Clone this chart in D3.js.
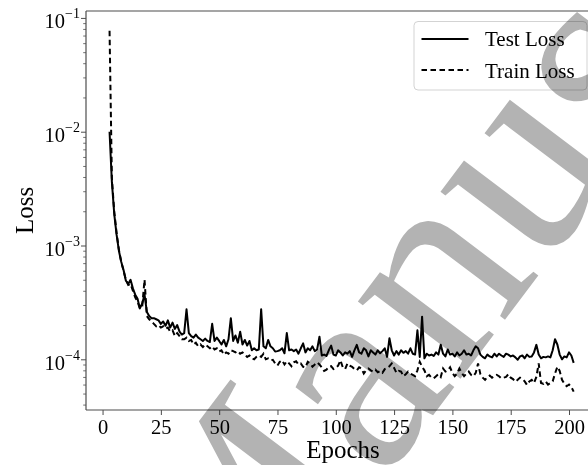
<!DOCTYPE html>
<html>
<head>
<meta charset="utf-8">
<script src="https://cdn.jsdelivr.net/npm/d3@7"></script>
<style>
  html, body { margin: 0; padding: 0; background: #fff; }
  svg { display: block; }
  text { font-family: "Liberation Serif", "DejaVu Serif", serif; }
</style>
</head>
<body>
<svg id="chart" width="588" height="465"></svg>
<script>
// ---------------- data ----------------
const firstEpoch = 3;
const testLoss = [
  1.0e-2, 3.6e-3, 1.9e-3, 1.25e-3, 9.0e-4, 7.2e-4, 6.1e-4, 4.9e-4, 4.6e-4, 5.0e-4,
  4.2e-4, 3.7e-4, 3.4e-4, 2.8e-4, 3.1e-4, 3.7e-4, 2.6e-4, 2.4e-4, 2.3e-4, 2.3e-4,
  2.25e-4, 2.2e-4, 2.05e-4, 2.15e-4, 1.97e-4, 2.2e-4, 1.9e-4, 2.1e-4, 1.85e-4, 2.0e-4,
  1.75e-4, 1.65e-4, 1.7e-4, 2.75e-4, 1.7e-4, 1.6e-4, 1.55e-4, 1.65e-4, 1.55e-4, 1.5e-4,
  1.45e-4, 1.52e-4, 1.45e-4, 1.42e-4, 2.05e-4, 1.45e-4, 1.55e-4, 1.45e-4, 1.35e-4, 1.48e-4,
  1.3e-4, 1.5e-4, 2.3e-4, 1.45e-4, 1.62e-4, 1.4e-4, 1.75e-4, 1.35e-4, 1.48e-4, 1.32e-4,
  1.45e-4, 1.2e-4, 1.25e-4, 1.2e-4, 1.22e-4, 2.75e-4, 1.3e-4, 1.25e-4, 1.48e-4, 1.3e-4,
  1.25e-4, 1.17e-4, 1.18e-4, 1.2e-4, 1.25e-4, 1.13e-4, 1.7e-4, 1.2e-4, 1.22e-4, 1.18e-4,
  1.22e-4, 1.12e-4, 1.25e-4, 1.38e-4, 1.15e-4, 1.25e-4, 1.2e-4, 1.3e-4, 1.18e-4, 1.22e-4,
  1.58e-4, 1.08e-4, 1.1e-4, 1.07e-4, 1.2e-4, 1.32e-4, 1.1e-4, 1.08e-4, 1.2e-4, 1.15e-4,
  1.08e-4, 1.15e-4, 1.12e-4, 1.18e-4, 1.05e-4, 1.2e-4, 1.34e-4, 1.15e-4, 1.12e-4, 1.25e-4,
  1.2e-4, 1.06e-4, 1.2e-4, 1.15e-4, 1.1e-4, 1.2e-4, 1.13e-4, 1.18e-4, 1.25e-4, 1.05e-4,
  1.53e-4, 1.2e-4, 1.08e-4, 1.18e-4, 1.1e-4, 1.2e-4, 1.14e-4, 1.18e-4, 1.12e-4, 1.25e-4,
  1.12e-4, 1.1e-4, 1.8e-4, 1.05e-4, 2.37e-4, 1.02e-4, 1.12e-4, 1.08e-4, 1.1e-4, 1.07e-4,
  1.15e-4, 1.1e-4, 1.34e-4, 1.12e-4, 1.06e-4, 1.22e-4, 1.1e-4, 1.12e-4, 1.06e-4, 1.15e-4,
  1.08e-4, 1.12e-4, 1.2e-4, 1.1e-4, 1.12e-4, 1.08e-4, 1.2e-4, 1.3e-4, 1.25e-4, 1.1e-4,
  1.05e-4, 1.02e-4, 1.1e-4, 1.06e-4, 1.04e-4, 1.12e-4, 1.06e-4, 1.12e-4, 1.08e-4, 1.05e-4,
  1.12e-4, 1.1e-4, 1.06e-4, 1.08e-4, 1.04e-4, 9.9e-5, 1.06e-4, 1.08e-4, 1.02e-4, 1.1e-4,
  1.05e-4, 1.06e-4, 1.15e-4, 1.34e-4, 1.1e-4, 1.02e-4, 1.05e-4, 1.04e-4, 1.06e-4, 1.04e-4,
  1.2e-4, 1.5e-4, 1.35e-4, 1.1e-4, 1.0e-4, 1.06e-4, 1.04e-4, 1.15e-4, 1.08e-4, 9.3e-5
];
const trainLoss = [
  7.7e-2, 3.9e-3, 2.0e-3, 1.3e-3, 9.2e-4, 7.2e-4, 6.0e-4, 5.0e-4, 4.5e-4, 4.6e-4,
  4.0e-4, 3.5e-4, 3.2e-4, 2.8e-4, 2.9e-4, 5.0e-4, 2.4e-4, 2.25e-4, 2.15e-4, 2.05e-4,
  1.95e-4, 2.0e-4, 1.9e-4, 1.95e-4, 1.85e-4, 1.9e-4, 1.75e-4, 1.8e-4, 1.6e-4, 1.7e-4,
  1.6e-4, 1.5e-4, 1.5e-4, 1.55e-4, 1.45e-4, 1.48e-4, 1.35e-4, 1.4e-4, 1.3e-4, 1.35e-4,
  1.28e-4, 1.35e-4, 1.3e-4, 1.25e-4, 1.3e-4, 1.22e-4, 1.25e-4, 1.17e-4, 1.2e-4, 1.1e-4,
  1.15e-4, 1.12e-4, 1.2e-4, 1.18e-4, 1.15e-4, 1.18e-4, 1.12e-4, 1.15e-4, 1.1e-4, 1.05e-4,
  1.08e-4, 1.02e-4, 1.0e-4, 1.05e-4, 1.08e-4, 1.05e-4, 1.12e-4, 1.0e-4, 1.02e-4, 9.8e-5,
  9.9e-5, 9.2e-5, 8.8e-5, 9.5e-5, 9.8e-5, 9.0e-5, 9.6e-5, 9.2e-5, 8.7e-5, 9.4e-5,
  9.6e-5, 9.0e-5, 9.2e-5, 8.6e-5, 8.5e-5, 9.5e-5, 9.2e-5, 8.6e-5, 9.0e-5, 9.4e-5,
  9.0e-5, 8.5e-5, 7.9e-5, 8.1e-5, 8.6e-5, 8.7e-5, 8.2e-5, 8.4e-5, 8.8e-5, 9.8e-5,
  8.5e-5, 8.2e-5, 9.2e-5, 8.8e-5, 8.6e-5, 8.2e-5, 8.0e-5, 8.5e-5, 8.3e-5, 7.5e-5,
  8.0e-5, 8.3e-5, 8.0e-5, 7.8e-5, 8.1e-5, 7.7e-5, 7.9e-5, 7.6e-5, 8.2e-5, 8.4e-5,
  8.7e-5, 9.2e-5, 8.4e-5, 7.6e-5, 7.9e-5, 7.8e-5, 7.1e-5, 7.4e-5, 7.8e-5, 7.5e-5,
  7.3e-5, 7.1e-5, 8.0e-5, 9.5e-5, 8.6e-5, 8.0e-5, 7.1e-5, 7.3e-5, 6.9e-5, 6.8e-5,
  7.1e-5, 7.4e-5, 7.0e-5, 8.3e-5, 7.8e-5, 8.0e-5, 8.5e-5, 7.6e-5, 7.1e-5, 7.5e-5,
  8.3e-5, 7.6e-5, 7.1e-5, 7.5e-5, 7.8e-5, 7.3e-5, 7.1e-5, 7.6e-5, 9.2e-5, 7.4e-5,
  6.9e-5, 6.6e-5, 7.0e-5, 7.2e-5, 6.9e-5, 7.1e-5, 7.3e-5, 7.1e-5, 6.8e-5, 6.9e-5,
  7.0e-5, 7.4e-5, 6.9e-5, 6.7e-5, 6.35e-5, 6.6e-5, 6.9e-5, 6.7e-5, 6.4e-5, 5.95e-5,
  6.4e-5, 6.6e-5, 6.2e-5, 7.0e-5, 9.2e-5, 6.2e-5, 6.1e-5, 6.4e-5, 6.0e-5, 6.2e-5,
  6.4e-5, 7.5e-5, 8.6e-5, 7.9e-5, 6.6e-5, 6.1e-5, 5.8e-5, 6.0e-5, 5.7e-5, 5.2e-5
];
const xTickValues = [0, 25, 50, 75, 100, 125, 150, 175, 200];
const yTickExponents = [-1, -2, -3, -4];
const seriesNames = ["Test Loss", "Train Loss"];
const xLabel = "Epochs";
const yLabel = "Loss";
const watermarkText = "Manuscript";

// ---------------- layout ----------------
const W = 588, H = 465;
const plot = { left: 86, top: 11, bottom: 410, right: 597 };
const svg = d3.select("#chart");

const x = d3.scaleLinear().domain([-7.1, 212]).range([plot.left, plot.right]);
const y = d3.scaleLog().domain([3.585e-5, 0.115]).range([plot.bottom, plot.top]);

svg.append("defs").append("clipPath").attr("id", "plotclip")
  .append("rect").attr("x", plot.left).attr("y", plot.top)
  .attr("width", plot.right - plot.left).attr("height", plot.bottom - plot.top);

// ---------------- lines ----------------
const line = d3.line().x((d, i) => x(firstEpoch + i)).y(d => y(d));
const gLines = svg.append("g").attr("clip-path", "url(#plotclip)");
gLines.append("path").datum(trainLoss).attr("d", line)
  .attr("fill", "none").attr("stroke", "#000").attr("stroke-width", 2)
  .attr("stroke-dasharray", "5.5,3.5");
gLines.append("path").datum(testLoss).attr("d", line)
  .attr("fill", "none").attr("stroke", "#000").attr("stroke-width", 2)
  .attr("stroke-linejoin", "round");

// ---------------- axes ----------------
const spineColor = "#4d4d4d";
const xAxis = d3.axisBottom(x).tickValues(xTickValues).tickSize(5).tickPadding(4)
  .tickFormat(d3.format("d"));
const gx = svg.append("g").attr("transform", `translate(0,${plot.bottom})`).call(xAxis);
gx.select(".domain").remove();
gx.selectAll(".tick line").attr("stroke", spineColor).attr("stroke-width", 1);
gx.selectAll(".tick text").attr("font-size", 20.5).attr("fill", "#000");

const minorVals = [];
[-5, -4, -3, -2, -1].forEach(e => {
  for (let k = 2; k <= 9; k++) {
    const v = k * Math.pow(10, e);
    if (v >= y.domain()[0] && v <= y.domain()[1]) minorVals.push(v);
  }
});
const gyMinor = svg.append("g").attr("transform", `translate(${plot.left},0)`)
  .call(d3.axisLeft(y).tickValues(minorVals).tickSize(2.8).tickFormat(""));
gyMinor.select(".domain").remove();
gyMinor.selectAll(".tick line").attr("stroke", spineColor).attr("stroke-width", 0.8);

const majorVals = yTickExponents.map(e => Math.pow(10, e));
const gy = svg.append("g").attr("transform", `translate(${plot.left},0)`)
  .call(d3.axisLeft(y).tickValues(majorVals).tickSize(5).tickFormat(""));
gy.select(".domain").remove();
gy.selectAll(".tick line").attr("stroke", spineColor).attr("stroke-width", 1);
gy.selectAll(".tick").each(function (d, i) {
  const t = d3.select(this).append("text")
    .attr("x", -6).attr("y", 10).attr("text-anchor", "end")
    .attr("font-size", 20.5).attr("fill", "#000");
  t.append("tspan").text("10");
  t.append("tspan").attr("font-size", 14).attr("dy", -10).text("\u2212" + Math.abs(yTickExponents[i]));
});

// spines
svg.append("line").attr("x1", plot.left).attr("x2", plot.left)
  .attr("y1", plot.top).attr("y2", plot.bottom)
  .attr("stroke", spineColor).attr("stroke-width", 1.2);
svg.append("line").attr("x1", plot.left).attr("x2", W)
  .attr("y1", plot.bottom).attr("y2", plot.bottom)
  .attr("stroke", spineColor).attr("stroke-width", 1.2);
svg.append("line").attr("x1", plot.left).attr("x2", W)
  .attr("y1", plot.top).attr("y2", plot.top)
  .attr("stroke", spineColor).attr("stroke-width", 1.2);

// axis labels
svg.append("text").attr("x", 343).attr("y", 458).attr("text-anchor", "middle")
  .attr("font-size", 25).attr("fill", "#000").text(xLabel);
svg.append("text").attr("transform", `translate(33,${(plot.top + plot.bottom) / 2}) rotate(-90)`)
  .attr("text-anchor", "middle").attr("font-size", 25).attr("fill", "#000").text(yLabel);

// ---------------- legend ----------------
const lg = svg.append("g");
lg.append("rect").attr("x", 414).attr("y", 21.5).attr("width", 173).attr("height", 68.5)
  .attr("rx", 4).attr("fill", "#fff").attr("fill-opacity", 0.8)
  .attr("stroke", "#d3d3d3").attr("stroke-width", 1);
const legendRows = [{ name: seriesNames[0], dash: null, ly: 39, ty: 46 },
                    { name: seriesNames[1], dash: "5.5,3.5", ly: 70, ty: 78 }];
legendRows.forEach(r => {
  lg.append("line").attr("x1", 421.5).attr("x2", 468.5).attr("y1", r.ly).attr("y2", r.ly)
    .attr("stroke", "#000").attr("stroke-width", 2)
    .attr("stroke-dasharray", r.dash);
  lg.append("text").attr("x", 485).attr("y", r.ty).attr("font-size", 21).attr("fill", "#000").text(r.name);
});

// ---------------- watermark ----------------
svg.append("text")
  .attr("transform", "translate(232,682) rotate(-53)")
  .attr("font-size", 280)
  .style("fill", "#b3b3b3")
  .style("mix-blend-mode", "multiply")
  .text(watermarkText);
</script>
</body>
</html>
